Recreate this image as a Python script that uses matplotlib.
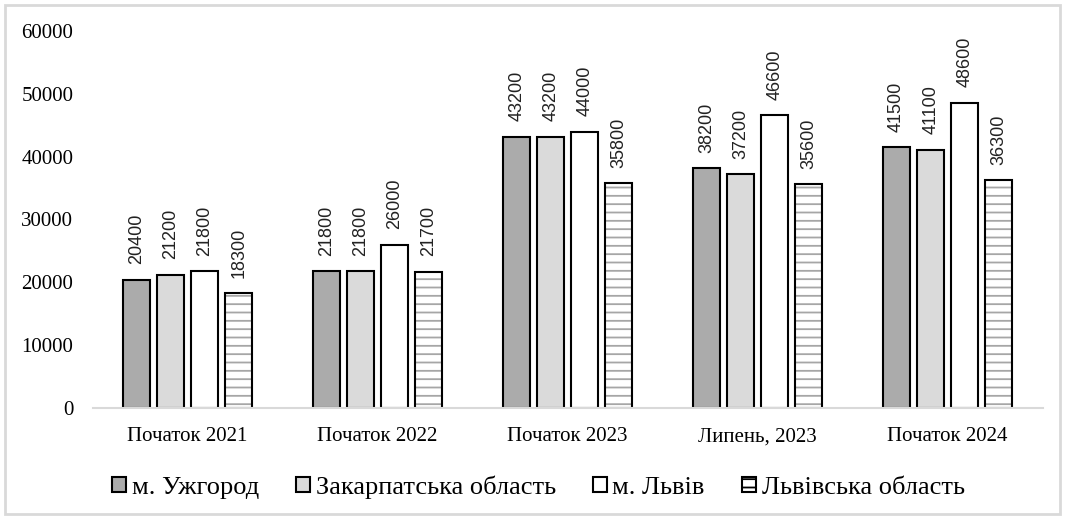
import numpy as np
import matplotlib.pyplot as plt
from matplotlib.patches import Rectangle

plt.rcParams['font.family'] = ['Liberation Serif', 'DejaVu Serif']
plt.rcParams['hatch.linewidth'] = 1.3

periods = ["Початок 2021", "Початок 2022", "Початок 2023", "Липень, 2023", "Початок 2024"]
series_names = ["м. Ужгород", "Закарпатська область", "м. Львів", "Львівська область"]
uzhhorod = [20400, 21800, 43200, 38200, 41500]
zakarpattia = [21200, 21800, 43200, 37200, 41100]
lviv = [21800, 26000, 44000, 46600, 48600]
lviv_obl = [18300, 21700, 35800, 35600, 36300]

values = [uzhhorod, zakarpattia, lviv, lviv_obl]
colors = ['#ababab', '#dadada', 'white', 'white']
hatches = [None, None, None, '--']

fig = plt.figure(figsize=(10.65, 5.17), dpi=100)
ax = fig.add_axes([0.087, 0.211, 0.892, 0.729])
fig.patches.append(Rectangle((0.005, 0.005), 0.99, 0.985, transform=fig.transFigure,
                             fill=False, edgecolor='#d9d9d9', linewidth=2))

x = np.arange(len(periods))
w = 0.142
pitch = 0.179
handles = []
for i, (vals, c, h) in enumerate(zip(values, colors, hatches)):
    pos = x + (i - 1.5) * pitch
    if h:
        # grey hatch lines underneath, black outline on top
        ax.bar(pos, vals, w, color=c, edgecolor='#a6a6a6', linewidth=0, hatch=h)
        bars = ax.bar(pos, vals, w, fill=False, edgecolor='black', linewidth=1.5)
    else:
        bars = ax.bar(pos, vals, w, color=c, edgecolor='black', linewidth=1.5)
    handles.append(Rectangle((0, 0), 1, 1, facecolor=c, edgecolor='black',
                             linewidth=1.5, hatch=h))
    for b, v in zip(bars, vals):
        ax.annotate(str(v), (b.get_x() + b.get_width() / 2, v), xytext=(0, 11),
                    textcoords='offset points', rotation=90, ha='center', va='bottom',
                    fontsize=13, family='Liberation Sans', color='#222222')

ax.set_xlim(-0.5, len(periods) - 0.5)
ax.set_ylim(0, 60000)
ax.set_yticks(np.arange(0, 60001, 10000))
ax.set_xticks(x)
ax.set_xticklabels(periods, fontsize=15)
ax.tick_params(axis='y', labelsize=15, length=0, pad=14)
ax.tick_params(axis='x', length=0, pad=14)
for s in ['top', 'right', 'left']:
    ax.spines[s].set_visible(False)
ax.spines['bottom'].set_color('#d9d9d9')
ax.spines['bottom'].set_linewidth(1.5)

ax.legend(handles, series_names, loc='center', bbox_to_anchor=(0.469, -0.21), ncol=4,
          frameon=False, fontsize=19, handlelength=0.55, handleheight=0.55,
          handletextpad=0.2, columnspacing=1.4)

plt.savefig("out.png", dpi=100)
